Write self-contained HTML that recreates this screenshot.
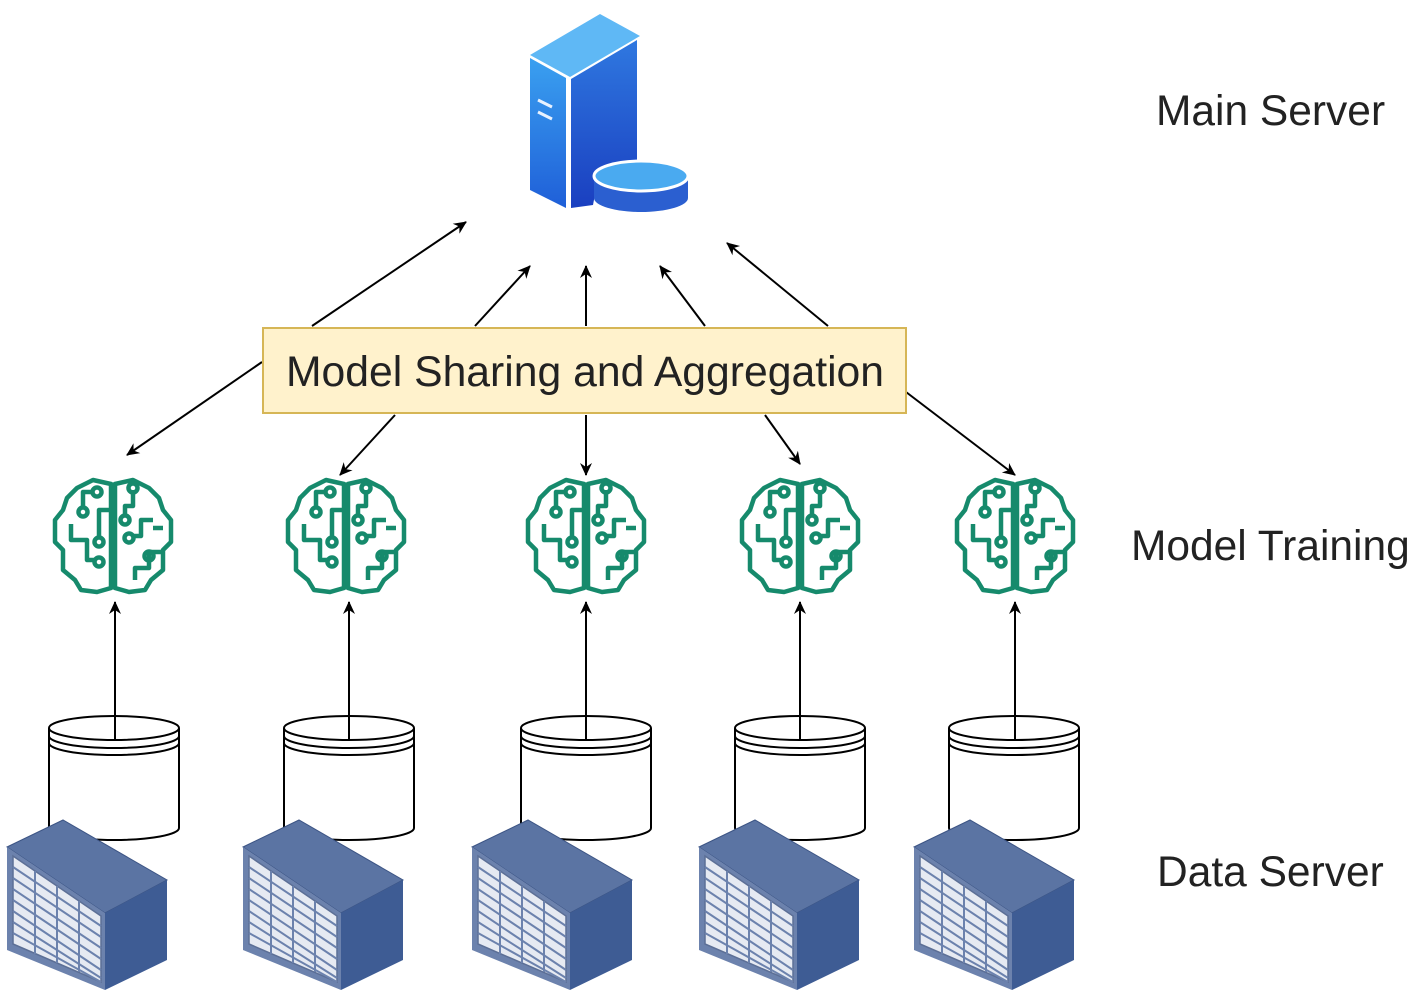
<!DOCTYPE html>
<html><head><meta charset="utf-8"><style>
html,body{margin:0;padding:0;background:#fff;}
svg{display:block}
text{font-family:"Liberation Sans",sans-serif;fill:#222}
</style></head><body>
<svg width="1417" height="999" viewBox="0 0 1417 999" xmlns="http://www.w3.org/2000/svg">
<defs>
<marker id="ah" markerWidth="14" markerHeight="14" refX="12" refY="7" orient="auto" markerUnits="userSpaceOnUse" viewBox="0 0 14 14">
<path d="M0,1 L13,7 L0,13 L4,7 Z" fill="#000"/></marker>
<linearGradient id="sv1" x1="0" y1="0" x2="0" y2="1"><stop offset="0" stop-color="#3aa0f0"/><stop offset="1" stop-color="#1f5fd8"/></linearGradient>
<linearGradient id="sv2" x1="0" y1="0" x2="0" y2="1"><stop offset="0" stop-color="#2f78e0"/><stop offset="1" stop-color="#1a3fc0"/></linearGradient>
<g id="brain" fill="none" stroke="#168a6c" stroke-width="4.5" stroke-linejoin="round">
<path d="M58,4 L40,0 L24,8 L14,18 L10,30 L2,40 L2,62 L10,70 L10,90 L22,100 L28,110 L44,112 L58,108 Z"/>
<path d="M62,4 L80,0 L96,8 L106,18 L110,30 L118,40 L118,62 L110,70 L110,90 L98,100 L92,110 L76,112 L62,108 Z"/>
<path d="M40,12 L30,12 L30,28 M58,30 L46,30 L46,58 M18,44 L18,60 L34,60 L34,80 L42,80 M80,10 L80,26 L72,26 L72,36 M100,40 L88,40 L88,56 L80,56 M110,48 L100,48 M108,72 L96,72 L96,88 L82,88 L82,100"/>
<circle cx="44" cy="12" r="4.5"/><circle cx="30" cy="32" r="4.5"/><circle cx="46" cy="62" r="4.5"/><circle cx="46" cy="82" r="4.5"/>
<circle cx="80" cy="8" r="4.5"/><circle cx="72" cy="40" r="4.5"/><circle cx="76" cy="58" r="4.5"/><circle cx="96" cy="76" r="4.5"/>
</g>
<g id="cyl" fill="#fff" stroke="#000" stroke-width="2">
<path d="M0,12 L0,112 A65,12 0 0 0 130,112 L130,12"/>
<ellipse cx="65" cy="12" rx="65" ry="12"/>
<path d="M0,20 A65,12 0 0 0 130,20 M0,27 A65,12 0 0 0 130,27" fill="none"/>
</g>
<g id="rack">
<polygon points="2,27 58,0 162,60 100,93" fill="#5b74a3" stroke="#3d5585"/>
<polygon points="100,93 162,60 162,140 100,170" fill="#3e5c94"/>
<polygon points="2,27 100,93 100,170 2,130" fill="#6c82ad"/>
<g stroke="#5c6f96" stroke-width="1.5" fill="#e6eaf2">
<polygon points="8,36 96,96 96,162 8,124"/>
</g>
<g stroke="#6c82ad" stroke-width="2" fill="none">
<path d="M30,51 L30,134 M52,66 L52,143 M74,81 L74,152"/>
<path d="M8,47 L96,106 M8,58 L96,117 M8,69 L96,128 M8,80 L96,139 M8,91 L96,150 M8,102 L96,158 M8,113 L96,162"/>
</g>
</g>
</defs>

<polygon points="530,55 600,14 640,36 570,77" fill="#5fb8f5"/>
<polygon points="530,58 566,78 566,208 530,190" fill="url(#sv1)"/>
<polygon points="571,79 637,40 637,165 600,168 593,205 571,208" fill="url(#sv2)"/>
<path d="M538,100 L552,107 M538,112 L552,119" stroke="#e8f2ff" stroke-width="3"/>
<path d="M594,176 L594,198 A47,14 0 0 0 688,198 L688,176 Z" fill="#2b5fd0"/>
<ellipse cx="641" cy="176" rx="47" ry="15" fill="#4aaaf0" stroke="#fff" stroke-width="3"/>

<g stroke="#000" stroke-width="2" marker-end="url(#ah)">
<line x1="312" y1="326" x2="466" y2="222"/>
<line x1="475" y1="326" x2="530" y2="266"/>
<line x1="586" y1="326" x2="586" y2="266"/>
<line x1="705" y1="326" x2="660" y2="266"/>
<line x1="828" y1="326" x2="727" y2="243"/>
<line x1="262" y1="362" x2="127" y2="455"/>
<line x1="395" y1="415" x2="340" y2="475"/>
<line x1="586" y1="415" x2="586" y2="475"/>
<line x1="765" y1="415" x2="800" y2="464"/>
<line x1="906" y1="392" x2="1015" y2="475"/>
</g>

<rect x="263" y="328" width="643" height="85" fill="#fff2cc" stroke="#d6b656" stroke-width="2"/>
<text x="585" y="386" font-size="42.7" text-anchor="middle">Model Sharing and Aggregation</text>

<use href="#brain" x="53" y="480"/>
<use href="#brain" x="286" y="480"/>
<use href="#brain" x="526" y="480"/>
<use href="#brain" x="740" y="480"/>
<use href="#brain" x="955" y="480"/>

<use href="#cyl" x="49" y="716"/>
<use href="#cyl" x="284" y="716"/>
<use href="#cyl" x="521" y="716"/>
<use href="#cyl" x="735" y="716"/>
<use href="#cyl" x="949" y="716"/>

<g stroke="#000" stroke-width="2" marker-end="url(#ah)">
<line x1="115" y1="740" x2="115" y2="602"/>
<line x1="349" y1="740" x2="349" y2="602"/>
<line x1="586" y1="740" x2="586" y2="602"/>
<line x1="800" y1="740" x2="800" y2="602"/>
<line x1="1015" y1="740" x2="1015" y2="602"/>
</g>

<use href="#rack" x="5" y="820"/>
<use href="#rack" x="241" y="820"/>
<use href="#rack" x="470" y="820"/>
<use href="#rack" x="697" y="820"/>
<use href="#rack" x="912" y="820"/>

<text x="1156" y="125" font-size="42.5">Main Server</text>
<text x="1131" y="560" font-size="42.5">Model Training</text>
<text x="1157" y="886" font-size="42.5">Data Server</text>
</svg>
</body></html>
